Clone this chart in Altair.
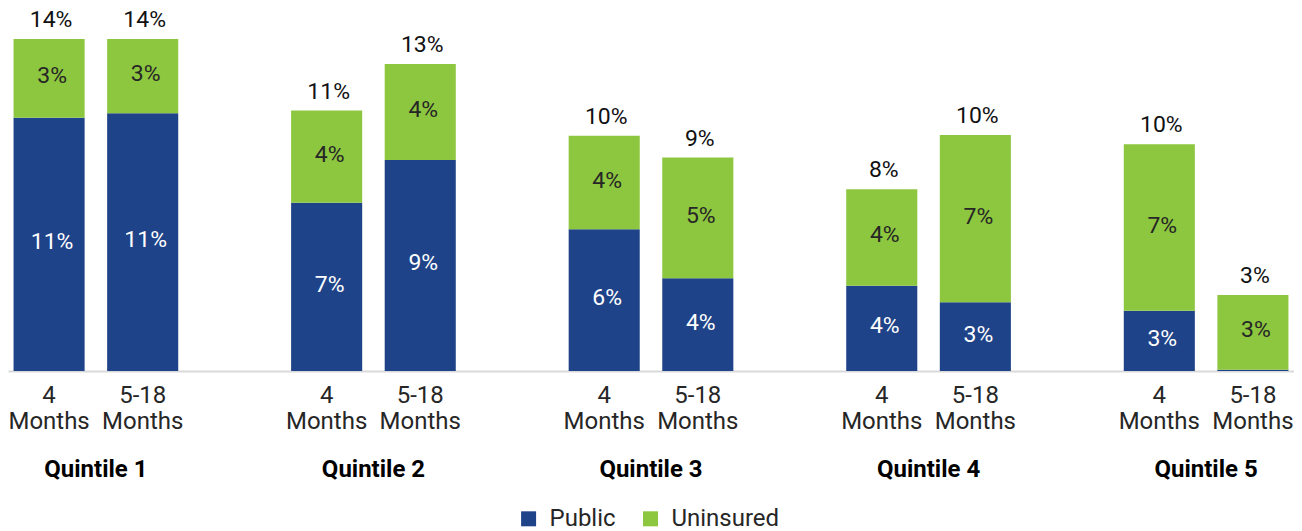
import altair as alt
import pandas as pd

quintiles = ["Quintile 1", "Quintile 2", "Quintile 3", "Quintile 4", "Quintile 5"]
periods = ["4\nMonths", "5-18\nMonths"]
types = ["Public", "Uninsured"]

# values per quintile, in the order (4 Months, 5-18 Months)
public = [10.73, 10.92, 7.13, 8.94, 6.00, 3.93, 3.61, 2.91, 2.55, 0.05]
uninsured = [3.33, 3.14, 3.90, 4.07, 3.96, 5.11, 4.09, 7.09, 7.05, 3.17]

BLUE = "#1F4388"
GREEN = "#8DC63F"
FONT = "Roboto"

rows = []
tot_rows = []
i = 0
for q in quintiles:
    for p in periods:
        rows.append({"quintile": q, "period": p, "type": "Public", "order": 0, "value": public[i]})
        rows.append({"quintile": q, "period": p, "type": "Uninsured", "order": 1, "value": uninsured[i]})
        tot_rows.append({"quintile": q, "period": p, "total": public[i] + uninsured[i]})
        i += 1
df = pd.DataFrame(rows)
tot = pd.DataFrame(tot_rows)

x_enc = alt.X(
    "quintile:N",
    sort=quintiles,
    scale=alt.Scale(paddingInner=0.4067, paddingOuter=0.02),
    axis=alt.Axis(
        title=None,
        labelFontSize=24,
        labelFontWeight="bold",
        labelColor="#000000",
        labelFont=FONT,
        labelPadding=87,
        ticks=False,
        tickSize=0,
        domainColor="#d9d9d9",
        domainWidth=2,
        labelAngle=0,
    ),
)
xo_enc = alt.XOffset("period:N", sort=periods, scale=alt.Scale(paddingInner=0.2406, paddingOuter=0))
y_scale = alt.Scale(domain=[0, 15.2], nice=False, zero=True)

stacked = alt.Chart(df).transform_stack(
    stack="value",
    groupby=["quintile", "period"],
    as_=["v0", "v1"],
    sort=[alt.SortField("order", order="ascending")],
).transform_calculate(
    mid="(datum.v0 + datum.v1) / 2",
    label="format(datum.value, '.0f') + '%'",
)

bars = stacked.mark_bar().encode(
    x=x_enc,
    xOffset=xo_enc,
    y=alt.Y("v0:Q", scale=y_scale, axis=None),
    y2="v1:Q",
    color=alt.Color(
        "type:N",
        scale=alt.Scale(domain=types, range=[BLUE, GREEN]),
        legend=alt.Legend(
            orient="none",
            legendX=509,
            legendY=495,
            direction="horizontal",
            title=None,
            symbolType="square",
            symbolSize=225,
            symbolStrokeWidth=0,
            labelFontSize=24,
            labelFont=FONT,
            labelColor="#262626",
            labelOffset=9,
            columnPadding=22,
        ),
    ),
)

seg_text = stacked.transform_filter("datum.value >= 0.5").mark_text(
    fontSize=23, font=FONT, baseline="middle", dy=-2, dx=3
).encode(
    x=x_enc,
    xOffset=xo_enc,
    y=alt.Y("mid:Q", scale=y_scale, axis=None),
    text="label:N",
    color=alt.condition(alt.datum.type == "Public", alt.value("#ffffff"), alt.value("#262626")),
)

tot_text = alt.Chart(tot).transform_calculate(
    label="format(datum.total, '.0f') + '%'"
).mark_text(
    fontSize=23, font=FONT, baseline="alphabetic", dy=-12, dx=2, color="#111111"
).encode(
    x=x_enc,
    xOffset=xo_enc,
    y=alt.Y("total:Q", scale=y_scale, axis=None),
    text="label:N",
)

period_text = alt.Chart(tot).mark_text(
    fontSize=24, font=FONT, baseline="top", dy=13, lineBreak="\n", lineHeight=26, color="#262626"
).encode(
    x=x_enc,
    xOffset=xo_enc,
    y=alt.datum(0),
    text="period:N",
)

chart = alt.layer(bars, seg_text, tot_text, period_text).properties(
    width=1287,
    height=359,
    padding={"left": 0, "top": 0, "right": 0, "bottom": 0},
).configure(font=FONT).configure_view(stroke=None)

chart.save("out.html", embed_options={"renderer": "svg", "actions": False})
